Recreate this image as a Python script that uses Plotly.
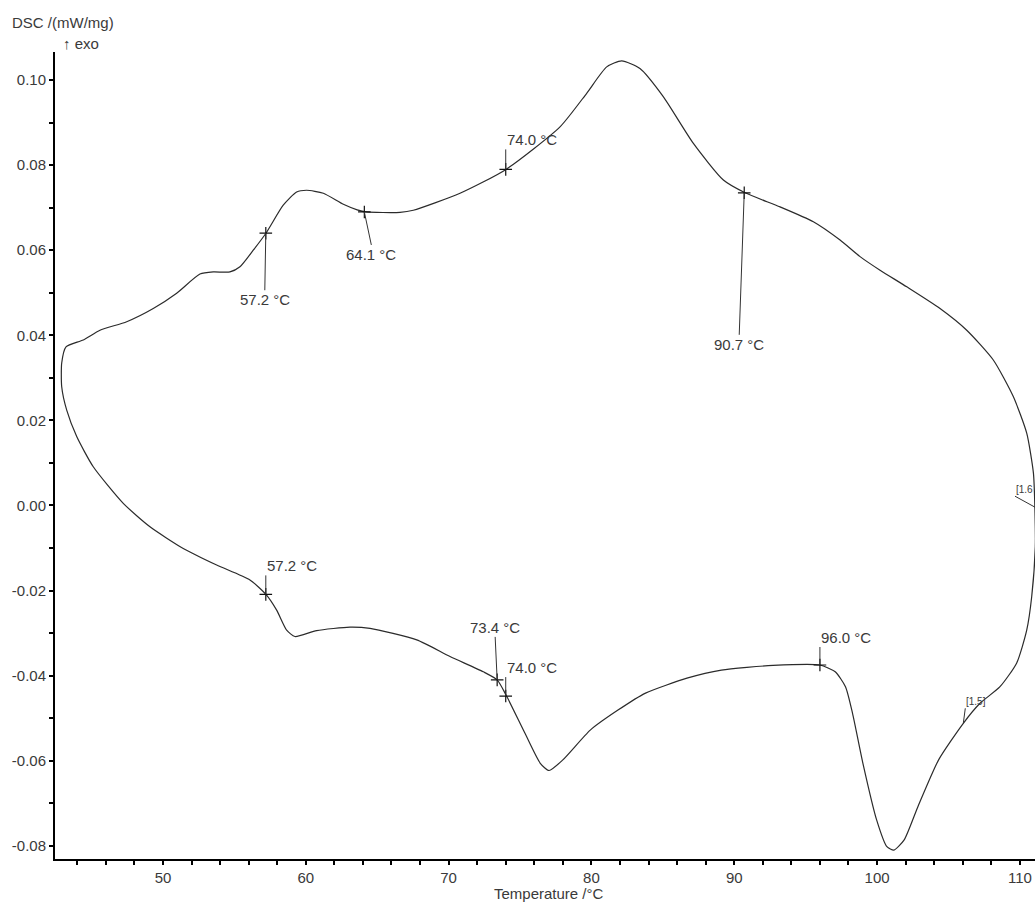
import plotly.graph_objects as go

# ---------------- data ----------------
# upper (exothermic) branch, from the left corner across the top to the right edge
upper_T = [42.91, 43.21, 44.42, 45.59, 47.46, 49.32, 50.96, 52.59, 53.52, 54.69,
           55.39, 56.32, 57.21, 58.42, 59.36, 60.06, 61.23, 62.63, 63.60, 64.22, 66.60,
           67.53, 70.80, 74.02, 77.80, 79.67, 81.07, 82.12, 83.40, 85.03, 87.14,
           89.24, 90.76, 93.21, 95.54, 97.41, 98.81, 100.21, 102.08, 104.41, 106.28,
           108.14, 109.54, 110.48, 110.95, 111.06]
upper_dsc = [0.0335, 0.0373, 0.0389, 0.0412, 0.0432, 0.0463, 0.0499, 0.0544, 0.0549, 0.0549,
             0.0561, 0.0600, 0.0640, 0.0706, 0.0737, 0.0741, 0.0734, 0.0708, 0.0695, 0.0690, 0.0689,
             0.0694, 0.0734, 0.0790, 0.0890, 0.0969, 0.1031, 0.1045, 0.1027, 0.0961, 0.0851,
             0.0765, 0.0735, 0.0702, 0.0667, 0.0624, 0.0585, 0.0553, 0.0514, 0.0463, 0.0412,
             0.0342, 0.0256, 0.0170, 0.0076, -0.0018]

# lower (endothermic) branch, from the right edge back along the bottom to the left corner
lower_T = [111.08, 110.83, 110.48, 109.78, 108.61, 107.21, 106.04, 104.31, 102.86, 101.90,
           101.18, 100.69, 99.97, 99.01, 98.28, 97.79, 97.07, 95.99, 92.72, 89.10,
           86.69, 83.79, 81.86, 79.92, 78.00, 77.03, 76.42, 75.34, 74.06, 73.40,
           72.43, 70.10, 67.77, 64.50, 63.10, 60.76, 59.24, 58.66, 57.96, 57.21,
           56.09, 53.76, 51.42, 49.09, 47.22, 45.12, 43.96, 43.26, 42.91, 42.91]
lower_dsc = [-0.0097, -0.0214, -0.0293, -0.0370, -0.0426, -0.0465, -0.0512, -0.0598, -0.0708, -0.0786,
             -0.0810, -0.0802, -0.0739, -0.0606, -0.0488, -0.0426, -0.0391, -0.0375, -0.0376, -0.0387,
             -0.0406, -0.0441, -0.0481, -0.0528, -0.0598, -0.0623, -0.0606, -0.0535, -0.0448, -0.0410,
             -0.0391, -0.0355, -0.0316, -0.0289, -0.0286, -0.0294, -0.0308, -0.0293, -0.0246, -0.0209,
             -0.0175, -0.0140, -0.0101, -0.0050, 0.0005, 0.0091, 0.0162, 0.0224, 0.0279, 0.0335]

# evaluated temperatures
mark_T = [57.2, 64.1, 74.0, 90.7, 57.2, 73.4, 74.0, 96.0]
mark_dsc = [0.0640, 0.0690, 0.0790, 0.0735, -0.0209, -0.0410, -0.0448, -0.0375]
mark_labels = ["57.2 °C", "64.1 °C", "74.0 °C", "90.7 °C",
               "57.2 °C", "73.4 °C", "74.0 °C", "96.0 °C"]

# segment markers
seg_T = [106.04, 111.06]
seg_dsc = [-0.0512, -0.0004]
seg_labels = ["[1.5]", "[1.6"]

x_tickvals = [50, 60, 70, 80, 90, 100, 110]
x_ticktext = ["50", "60", "70", "80", "90", "100", "110"]
y_tickvals = [0.10, 0.08, 0.06, 0.04, 0.02, 0.00, -0.02, -0.04, -0.06, -0.08]
y_ticktext = ["0.10", "0.08", "0.06", "0.04", "0.02", "0.00",
              "-0.02", "-0.04", "-0.06", "-0.08"]

# ---------------- figure ----------------
FONT = "Liberation Sans Narrow, Arial Narrow, Liberation Sans, Arial, sans-serif"
TXT = "#3a3a3a"

fig = go.Figure()
fig.add_trace(go.Scatter(
    x=upper_T + lower_T, y=upper_dsc + lower_dsc, mode="lines",
    line=dict(color="#2b2b2b", width=1.2, shape="spline", smoothing=0.6),
    hoverinfo="skip", showlegend=False))
fig.add_trace(go.Scatter(
    x=mark_T, y=mark_dsc, mode="markers",
    marker=dict(symbol="cross-thin", size=9, line=dict(color="#111", width=1.2)),
    hoverinfo="skip", showlegend=False))

label_style = [
    dict(ax=-1, ay=57, xanchor="center", yanchor="top"),
    dict(ax=7, ay=33, xanchor="center", yanchor="top"),
    dict(ax=0, ay=-20, xanchor="left", yanchor="bottom"),
    dict(ax=-5, ay=142, xanchor="center", yanchor="top"),
    dict(ax=0, ay=-19, xanchor="left", yanchor="bottom"),
    dict(ax=-2, ay=-43, xanchor="center", yanchor="bottom"),
    dict(ax=0, ay=-19, xanchor="left", yanchor="bottom"),
    dict(ax=0, ay=-18, xanchor="left", yanchor="bottom"),
]
for t, v, lab, st in zip(mark_T, mark_dsc, mark_labels, label_style):
    fig.add_annotation(x=t, y=v, text=lab, showarrow=True, arrowhead=0,
                       arrowwidth=1, arrowcolor="#333", standoff=0,
                       axref="pixel", ayref="pixel", borderpad=0,
                       font=dict(family=FONT, size=15, color=TXT), **st)

seg_style = [
    dict(ax=2, ay=-15, xanchor="left", yanchor="bottom"),
    dict(ax=-20, ay=-11, xanchor="left", yanchor="bottom"),
]
for t, v, lab, st in zip(seg_T, seg_dsc, seg_labels, seg_style):
    fig.add_annotation(x=t, y=v, text=lab, showarrow=True, arrowhead=0,
                       arrowwidth=1, arrowcolor="#333", standoff=0,
                       axref="pixel", ayref="pixel", borderpad=0,
                       font=dict(family=FONT, size=10, color=TXT), **st)

# axis captions
fig.add_annotation(xref="paper", yref="paper", x=0, y=1, xshift=-45, yshift=30,
                   xanchor="left", yanchor="middle", showarrow=False,
                   text="DSC /(mW/mg)", font=dict(family=FONT, size=15, color=TXT))
fig.add_annotation(xref="paper", yref="paper", x=0, y=1, xshift=6, yshift=9,
                   xanchor="left", yanchor="middle", showarrow=False,
                   text="↑ exo", font=dict(family=FONT, size=15, color=TXT))
fig.add_annotation(xref="paper", yref="paper", x=0.504, y=0, yshift=-34,
                   xanchor="center", yanchor="middle", showarrow=False,
                   text="Temperature /°C", font=dict(family=FONT, size=15, color=TXT))

axis_common = dict(showline=True, linecolor="black", linewidth=2,
                   ticks="outside", ticklen=4, tickwidth=1.5, tickcolor="black",
                   showgrid=False, zeroline=False,
                   tickfont=dict(family=FONT, size=15, color=TXT))
fig.update_xaxes(range=[42.44, 111.06], tickvals=x_tickvals, ticktext=x_ticktext,
                 minor=dict(dtick=2, tick0=0, ticks="outside", ticklen=4,
                            tickwidth=1.5, tickcolor="black", showgrid=False),
                 **axis_common)
fig.update_yaxes(range=[-0.0831, 0.1066], tickvals=y_tickvals, ticktext=y_ticktext,
                 minor=dict(dtick=0.01, tick0=0, ticks="outside", ticklen=4,
                            tickwidth=1.5, tickcolor="black", showgrid=False),
                 **axis_common)

fig.update_layout(width=1035, height=902,
                  margin=dict(l=55, r=0, t=52, b=43),
                  paper_bgcolor="white", plot_bgcolor="white",
                  showlegend=False)

fig.write_html("out.html", config={"displayModeBar": False},
               post_script="document.body.style.margin='0';document.body.style.overflow='hidden';")
